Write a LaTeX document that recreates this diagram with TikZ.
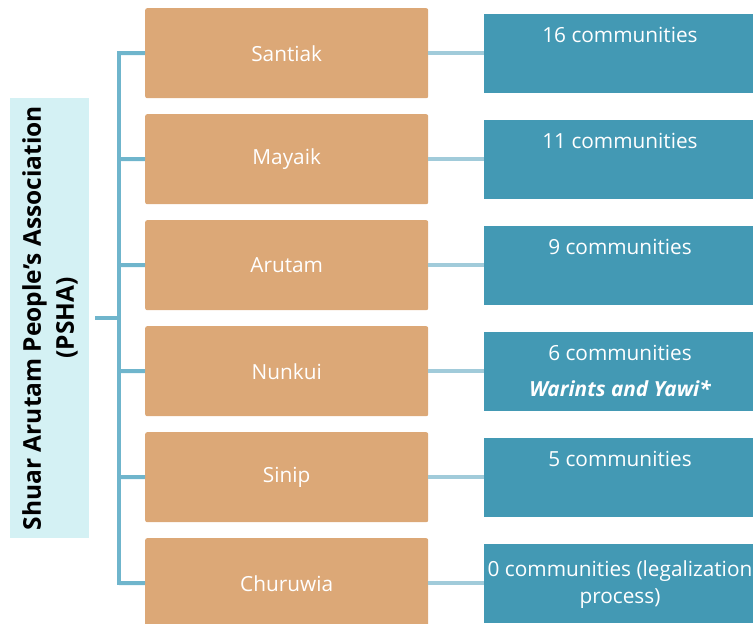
\documentclass[tikz,border=0pt]{standalone}
\usepackage{fontspec}
\setmainfont{Open Sans}
\definecolor{orgbox}{HTML}{DCA877}
\definecolor{tealbox}{HTML}{4399B4}
\definecolor{rootbox}{HTML}{D4F1F4}
\definecolor{trunkc}{HTML}{6FB5CC}
\definecolor{linkc}{HTML}{A1CBDA}
\begin{document}
\begin{tikzpicture}[x=1pt,y=-1pt,
  regionbox/.style={fill=orgbox, draw=none, rounded corners=2pt, minimum width=283pt, minimum height=90pt, inner sep=0pt, text=white, font=\fontsize{20.8}{24}\selectfont, anchor=north west},
  countbox/.style={fill=tealbox, draw=none, minimum width=272pt, minimum height=79pt, inner sep=0pt, anchor=north west},
  counttext/.style={text=white, font=\fontsize{20.8}{24}\selectfont, anchor=center, inner sep=0pt, align=center},
  trunkline/.style={draw=trunkc, line width=4pt},
  linkline/.style={draw=linkc, line width=4.5pt}]
\useasboundingbox (0,0) rectangle (753,624);
\node[fill=rootbox, minimum width=79pt, minimum height=440pt, anchor=north west, inner sep=0pt] (root) at (10,98) {};
\node[rotate=90, font=\bfseries\fontsize{24.5}{33}\selectfont, align=center, inner sep=0pt] (rootlabel) at (50,318) {Shuar Arutam People's Association\\(PSHA)};
\foreach \i/\name/\lbl in {0/santiak/Santiak,1/mayaik/Mayaik,2/arutam/Arutam,3/nunkui/Nunkui,4/sinip/Sinip,5/churuwia/Churuwia}{
  \node[regionbox] (\name) at (145,8+106*\i) {\lbl};
  \node[countbox] (c\name) at (484,14+106*\i) {};
  \draw[linkline] (\name.east) -- (\name.east -| c\name.west) coordinate (e\name);
  \coordinate (b\name) at (119,53+106*\i);
  \draw[trunkline] (b\name) -- (\name.west);
}
\coordinate (rootout) at (95,318);
\coordinate (trunkmid) at (119,318);
\draw[trunkline] (rootout) -- (trunkmid);
\draw[trunkline, line cap=rect] (bsantiak) -- (bchuruwia);
\node[counttext] (t1) at (620,35) {16 communities};
\node[counttext] (t2) at (620,141) {11 communities};
\node[counttext] (t3) at (620,247) {9 communities};
\node[counttext] (t4) at (620,353) {6 communities};
\node[counttext, font=\bfseries\itshape\fontsize{20.8}{24}\selectfont] (t4b) at (620,389) {Warints and Yawi*};
\node[counttext, font=\fontsize{20.8}{27}\selectfont] (t6) at (620,585) {0 communities (legalization\\process)};
\node[counttext] (t5) at (620,459) {5 communities};
\end{tikzpicture}
\end{document}
